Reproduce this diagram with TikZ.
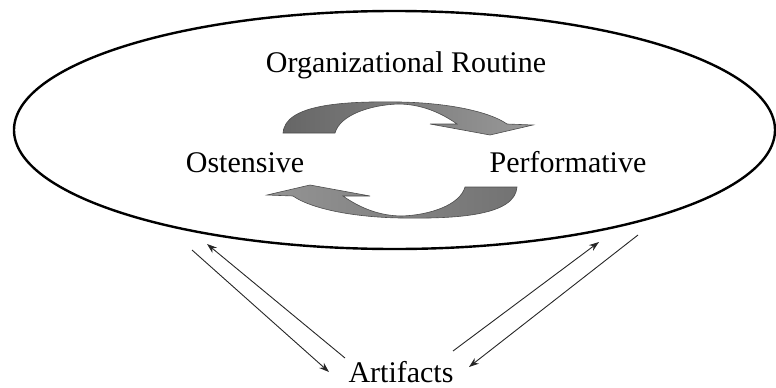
\documentclass[tikz,border=0pt]{standalone}
\usepackage{fontspec}
\setmainfont{Liberation Serif}
\usetikzlibrary{shapes.geometric,arrows.meta}
\begin{document}
\begin{tikzpicture}[x=1pt,y=-1pt,
  lbl/.style={anchor=base,inner sep=0pt,font=\fontsize{30}{36}\selectfont},
  conn/.style={line width=0.9pt,draw=black!85,-{Stealth[length=10pt,width=7pt]}},
  cyc/.style={draw=black!70,line width=0.6pt}]
\useasboundingbox (0,0) rectangle (776,388);
\node[draw,ellipse,line width=2.4pt,minimum width=761pt,minimum height=238pt,inner sep=0pt] (routine) at (394.5,130) {};
\node[lbl] (title) at (406,72) {Organizational Routine};
\node[lbl] (ost) at (245,172) {Ostensive};
\node[lbl] (perf) at (568,172) {Performative};
\node[lbl] (art) at (401,382) {Artifacts};
% cyclic arrows
\path[cyc,left color=black!60,right color=black!40]
  (283,133) .. controls (285,105) and (340,101) .. (400,102)
  .. controls (450,103) and (490,112) .. (507,124)
  -- (533,125) -- (490,135) -- (430,124) -- (457,124)
  .. controls (440,112) and (420,104) .. (398,104)
  .. controls (370,105) and (340,115) .. (335,133) -- cycle;
\begin{scope}[rotate around={180:(400,160)}]
\path[cyc,left color=black!42,right color=black!55]
  (283,133) .. controls (285,105) and (340,101) .. (400,102)
  .. controls (450,103) and (490,112) .. (507,124)
  -- (533,125) -- (490,135) -- (430,124) -- (457,124)
  .. controls (440,112) and (420,104) .. (398,104)
  .. controls (370,105) and (340,115) .. (335,133) -- cycle;
\end{scope}
% connectors
\coordinate (l1s) at (192,250);
\coordinate (l1e) at (329,372);
\coordinate (l2s) at (345,358);
\coordinate (l2e) at (207,244);
\coordinate (r1s) at (453,351);
\coordinate (r1e) at (599,242);
\coordinate (r2s) at (638,235);
\coordinate (r2e) at (469,367);
\draw[conn] (l1s) -- (l1e);
\draw[conn] (l2s) -- (l2e);
\draw[conn] (r1s) -- (r1e);
\draw[conn] (r2s) -- (r2e);
\end{tikzpicture}
\end{document}
